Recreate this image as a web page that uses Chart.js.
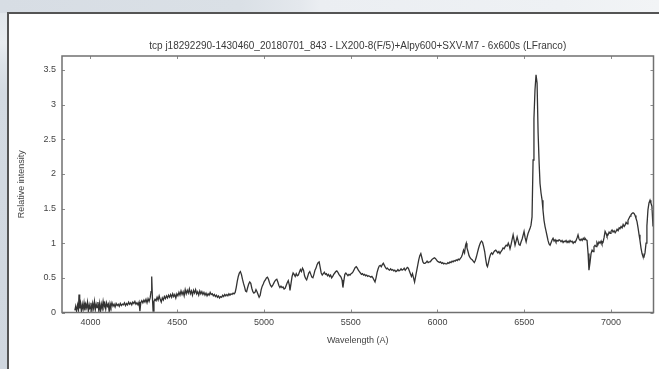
<!DOCTYPE html>
<html>
<head>
<meta charset="utf-8">
<script src="https://cdn.jsdelivr.net/npm/chart.js@4/dist/chart.umd.min.js"></script>
<style>
html, body { margin: 0; padding: 0; }
body { width: 659px; height: 369px; overflow: hidden; position: relative; background: #d5dce3; }
#topband { position: absolute; left: 0; top: 0; width: 659px; height: 13px;
  background: linear-gradient(90deg, #d7dde4 0px, #dae0e6 240px, #e4e8ed 300px, #ebeef2 320px, #eef1f4 560px, #f2f4f6 659px); }
#leftband { position: absolute; left: 0; top: 13px; width: 8px; height: 356px;
  background: linear-gradient(180deg, #e2e7ec 0px, #e8ecf0 30px, #dde3e9 50px, #d3dae2 80px, #d0d7df 356px); }
#panel { position: absolute; left: 7px; top: 12px; width: 660px; height: 370px; background: #fff;
  border-top: 2px solid #545454; border-left: 2px solid #545454; }
canvas { position: absolute; left: 0; top: 0; }
</style>
</head>
<body>
<div id="topband"></div>
<div id="leftband"></div>
<div id="panel"></div>
<canvas id="chart" width="659" height="369"></canvas>
<script>
const chartTitle = 'tcp j18292290-1430460_20180701_843 - LX200-8(F/5)+Alpy600+SXV-M7 - 6x600s (LFranco)';
const xTitle = 'Wavelength (A)';
const yTitle = 'Relative intensity';
const xTicks = [4000, 4500, 5000, 5500, 6000, 6500, 7000];
const yTicks = [0, 0.5, 1, 1.5, 2, 2.5, 3, 3.5];

// wavelength (A)
const wavelength = [
  3910, 3915, 3920, 3926, 3931, 3934, 3938, 3943, 3948, 3953, 3958, 3963, 3968, 3973, 3978, 3983, 3988, 3993, 3998, 4003,
  4008, 4013, 4018, 4023, 4028, 4033, 4038, 4043, 4048, 4053, 4058, 4063, 4068, 4073, 4078, 4083, 4088, 4093, 4098, 4103,
  4108, 4113, 4118, 4124, 4130, 4136, 4142, 4148, 4154, 4160, 4166, 4172, 4178, 4184, 4190, 4196, 4202, 4208, 4214, 4220,
  4226, 4232, 4238, 4244, 4250, 4256, 4262, 4268, 4274, 4280, 4285, 4290, 4296, 4302, 4308, 4314, 4320, 4326, 4332, 4338,
  4344, 4349, 4353, 4357, 4361, 4366, 4372, 4378, 4384, 4390, 4396, 4402, 4408, 4414, 4420, 4426, 4432, 4438, 4444, 4450,
  4456, 4462, 4468, 4474, 4480, 4486, 4492, 4498, 4504, 4510, 4516, 4522, 4528, 4534, 4540, 4546, 4552, 4558, 4564, 4570,
  4576, 4582, 4588, 4594, 4600, 4606, 4612, 4618, 4624, 4630, 4636, 4642, 4648, 4654, 4660, 4666, 4672, 4678, 4684, 4690,
  4696, 4702, 4708, 4714, 4720, 4726, 4732, 4738, 4744, 4750, 4756, 4762, 4768, 4774, 4780, 4786, 4792, 4798, 4804, 4810,
  4816, 4822, 4828, 4834, 4840, 4846, 4852, 4858, 4864, 4870, 4876, 4882, 4888, 4894, 4900, 4906, 4912, 4918, 4924, 4930,
  4936, 4942, 4948, 4954, 4960, 4966, 4972, 4978, 4984, 4990, 4996, 5002, 5008, 5014, 5020, 5026, 5032, 5038, 5044, 5050,
  5056, 5062, 5068, 5074, 5080, 5086, 5092, 5098, 5104, 5110, 5116, 5122, 5128, 5134, 5140, 5146, 5150, 5156, 5162, 5168,
  5174, 5180, 5186, 5192, 5198, 5204, 5210, 5216, 5222, 5228, 5234, 5240, 5246, 5252, 5258, 5264, 5270, 5276, 5282, 5288,
  5294, 5300, 5306, 5312, 5318, 5324, 5330, 5336, 5342, 5348, 5354, 5360, 5366, 5372, 5378, 5384, 5390, 5396, 5402, 5408,
  5414, 5420, 5426, 5432, 5438, 5444, 5450, 5455, 5460, 5466, 5472, 5478, 5484, 5490, 5496, 5502, 5508, 5514, 5520, 5526,
  5532, 5538, 5544, 5550, 5556, 5562, 5568, 5574, 5580, 5586, 5592, 5598, 5604, 5610, 5616, 5622, 5628, 5634, 5640, 5646,
  5652, 5658, 5664, 5670, 5676, 5682, 5688, 5694, 5700, 5706, 5712, 5718, 5724, 5730, 5736, 5742, 5748, 5754, 5760, 5766,
  5772, 5778, 5784, 5790, 5796, 5802, 5808, 5814, 5820, 5826, 5832, 5838, 5844, 5850, 5856, 5862, 5868, 5874, 5880, 5886,
  5892, 5898, 5904, 5910, 5916, 5922, 5928, 5934, 5940, 5946, 5952, 5958, 5964, 5970, 5976, 5982, 5988, 5994, 6000, 6006,
  6012, 6018, 6024, 6030, 6036, 6042, 6048, 6054, 6060, 6066, 6072, 6078, 6084, 6090, 6096, 6102, 6108, 6114, 6120, 6126,
  6132, 6138, 6144, 6150, 6156, 6162, 6166, 6170, 6176, 6182, 6188, 6194, 6200, 6206, 6212, 6218, 6224, 6230, 6236, 6242,
  6248, 6254, 6260, 6266, 6272, 6278, 6284, 6288, 6294, 6300, 6306, 6312, 6318, 6324, 6330, 6336, 6342, 6348, 6354, 6360,
  6366, 6372, 6378, 6384, 6390, 6396, 6402, 6408, 6414, 6418, 6424, 6430, 6436, 6442, 6447, 6453, 6459, 6465, 6470, 6476,
  6482, 6488, 6494, 6499, 6505, 6511, 6516, 6522, 6528, 6534, 6539, 6545, 6551, 6556, 6562, 6568, 6574, 6580, 6586, 6591,
  6597, 6603, 6608, 6614, 6620, 6626, 6632, 6637, 6643, 6649, 6655, 6661, 6666, 6672, 6678, 6683, 6689, 6695, 6701, 6706,
  6712, 6718, 6724, 6730, 6735, 6741, 6747, 6753, 6758, 6764, 6770, 6776, 6782, 6788, 6793, 6799, 6805, 6810, 6816, 6822,
  6828, 6834, 6840, 6845, 6850, 6856, 6862, 6868, 6873, 6879, 6885, 6891, 6897, 6902, 6908, 6914, 6919, 6925, 6931, 6937,
  6943, 6948, 6954, 6960, 6966, 6972, 6977, 6983, 6989, 6995, 7000, 7006, 7012, 7018, 7024, 7029, 7035, 7041, 7047, 7052,
  7058, 7064, 7070, 7076, 7081, 7087, 7093, 7098, 7104, 7110, 7115, 7121, 7127, 7133, 7139, 7144, 7150, 7156, 7162, 7167,
  7173, 7179, 7184, 7190, 7196, 7202, 7207, 7213, 7219, 7225, 7230, 7236, 7242
];

// relative intensity at each wavelength
const intensity = [
  0.03, 0.09, 0.02, 0.11, 0.04, 0.26, 0.06, 0.13, 0.01, 0.12, 0.05, 0.14, 0.03, 0.12, 0.07, 0.15, 0.02, 0.11, 0.05, 0.14,
  0.02, 0.13, 0.06, 0.16, 0.04, 0.12, 0.07, 0.15, 0.03, 0.13, 0.01, 0.12, 0.06, 0.16, 0.08, 0.13, 0.05, 0.14, 0.09, 0.12,
  0.01, 0.13, 0.08, 0.14, 0.09, 0.12, 0.08, 0.13, 0.10, 0.12, 0.09, 0.13, 0.10, 0.12, 0.11, 0.14, 0.10, 0.13, 0.11, 0.15,
  0.12, 0.14, 0.11, 0.15, 0.13, 0.16, 0.12, 0.14, 0.11, 0.15, 0.02, 0.14, 0.17, 0.14, 0.18, 0.15, 0.19, 0.14, 0.20, 0.16,
  0.21, 0.30, 0.52, 0.22, 0.02, 0.16, 0.19, 0.17, 0.22, 0.18, 0.24, 0.19, 0.15, 0.21, 0.18, 0.23, 0.20, 0.24, 0.21, 0.25,
  0.22, 0.26, 0.22, 0.27, 0.23, 0.26, 0.21, 0.27, 0.24, 0.29, 0.25, 0.31, 0.26, 0.30, 0.24, 0.33, 0.27, 0.32, 0.28, 0.34,
  0.27, 0.31, 0.25, 0.32, 0.28, 0.33, 0.27, 0.30, 0.25, 0.31, 0.27, 0.30, 0.26, 0.29, 0.25, 0.28, 0.24, 0.27, 0.25, 0.29,
  0.26, 0.27, 0.24, 0.26, 0.23, 0.25, 0.22, 0.24, 0.21, 0.23, 0.22, 0.25, 0.23, 0.26, 0.24, 0.26, 0.24, 0.27, 0.25, 0.27,
  0.26, 0.28, 0.27, 0.29, 0.36, 0.45, 0.52, 0.57, 0.59, 0.55, 0.48, 0.42, 0.37, 0.31, 0.30, 0.36, 0.41, 0.44, 0.42, 0.35,
  0.30, 0.28, 0.29, 0.33, 0.30, 0.26, 0.22, 0.25, 0.33, 0.38, 0.41, 0.45, 0.47, 0.50, 0.51, 0.48, 0.43, 0.39, 0.37, 0.39,
  0.42, 0.45, 0.47, 0.48, 0.44, 0.39, 0.36, 0.38, 0.36, 0.37, 0.34, 0.35, 0.39, 0.43, 0.46, 0.40, 0.32, 0.42, 0.52, 0.57,
  0.55, 0.52, 0.56, 0.53, 0.54, 0.58, 0.62, 0.59, 0.64, 0.61, 0.53, 0.49, 0.47, 0.52, 0.57, 0.59, 0.55, 0.51, 0.50, 0.55,
  0.61, 0.64, 0.69, 0.72, 0.73, 0.65, 0.57, 0.54, 0.56, 0.58, 0.55, 0.56, 0.53, 0.55, 0.52, 0.54, 0.50, 0.52, 0.55, 0.57,
  0.59, 0.60, 0.58, 0.55, 0.53, 0.51, 0.47, 0.36, 0.45, 0.55, 0.57, 0.55, 0.53, 0.55, 0.54, 0.56, 0.57, 0.59, 0.62, 0.65,
  0.66, 0.64, 0.61, 0.59, 0.57, 0.55, 0.56, 0.54, 0.55, 0.53, 0.54, 0.52, 0.53, 0.52, 0.51, 0.52, 0.50, 0.47, 0.44, 0.50,
  0.58, 0.63, 0.67, 0.68, 0.66, 0.69, 0.71, 0.68, 0.65, 0.63, 0.64, 0.62, 0.61, 0.63, 0.61, 0.62, 0.60, 0.61, 0.59, 0.60,
  0.62, 0.60, 0.61, 0.63, 0.61, 0.62, 0.64, 0.61, 0.63, 0.65, 0.64, 0.60, 0.56, 0.52, 0.56, 0.50, 0.44, 0.52, 0.60, 0.68,
  0.76, 0.82, 0.85, 0.79, 0.73, 0.71, 0.71, 0.72, 0.74, 0.72, 0.73, 0.73, 0.75, 0.77, 0.78, 0.79, 0.78, 0.76, 0.74, 0.73,
  0.72, 0.73, 0.71, 0.72, 0.70, 0.71, 0.70, 0.70, 0.72, 0.71, 0.73, 0.72, 0.74, 0.73, 0.75, 0.74, 0.76, 0.75, 0.77, 0.76,
  0.78, 0.80, 0.84, 0.90, 0.86, 0.97, 1.00, 0.93, 0.88, 0.82, 0.79, 0.77, 0.76, 0.74, 0.72, 0.75, 0.80, 0.86, 0.92, 0.97,
  1.01, 1.03, 1.01, 0.95, 0.88, 0.77, 0.68, 0.66, 0.72, 0.79, 0.84, 0.86, 0.84, 0.87, 0.89, 0.90, 0.88, 0.86, 0.88, 0.85,
  0.88, 0.90, 0.93, 0.92, 0.95, 0.97, 0.96, 1.00, 0.96, 0.92, 0.98, 1.05, 1.12, 1.04, 0.97, 1.03, 1.09, 1.03, 0.98, 0.97,
  1.02, 1.06, 1.12, 1.17, 1.08, 1.02, 1.08, 1.14, 1.18, 1.22, 1.26, 1.38, 2.20, 2.80, 3.21, 3.43, 3.31, 2.59, 2.15, 1.86,
  1.72, 1.62, 1.48, 1.33, 1.24, 1.17, 1.10, 1.04, 0.99, 0.97, 1.01, 1.05, 1.07, 1.03, 1.05, 1.02, 1.04, 1.03, 1.05, 1.04,
  1.02, 1.04, 1.01, 1.03, 1.02, 1.04, 1.01, 1.03, 1.01, 1.04, 1.02, 1.03, 1.00, 1.02, 1.01, 1.04, 1.08, 1.12, 1.06, 1.04,
  1.06, 1.04, 1.07, 1.05, 1.07, 1.05, 1.04, 0.85, 0.61, 0.72, 0.85, 0.90, 0.88, 0.95, 0.97, 0.95, 1.01, 0.98, 1.02, 1.00,
  1.03, 0.99, 1.01, 1.08, 1.17, 1.14, 1.10, 1.12, 1.16, 1.14, 1.17, 1.19, 1.16, 1.18, 1.15, 1.17, 1.20, 1.18, 1.22, 1.21,
  1.24, 1.22, 1.27, 1.24, 1.26, 1.30, 1.28, 1.33, 1.36, 1.39, 1.41, 1.43, 1.44, 1.43, 1.40, 1.36, 1.31, 1.22, 1.12, 1.04,
  0.93, 0.85, 0.81, 0.80, 0.86, 1.00, 1.25, 1.48, 1.58, 1.62, 1.58, 1.53, 1.24
];

const labelFont = { family: "'Liberation Sans', Arial, sans-serif", size: 9, weight: 'normal' };
const titleFont = { family: "'Liberation Sans', Arial, sans-serif", size: 10, weight: 'normal' };

// frame round the plot area, with short inward ticks on all four sides
const frameTicks = {
  id: 'frameTicks',
  afterDatasetsDraw(chart) {
    const { ctx, chartArea: a, scales } = chart;
    ctx.save();
    ctx.strokeStyle = '#8c8c8c';
    ctx.lineWidth = 1;
    ctx.beginPath();
    scales.x.ticks.forEach(t => {
      const px = Math.round(scales.x.getPixelForValue(t.value)) + 0.5;
      ctx.moveTo(px, a.bottom); ctx.lineTo(px, a.bottom - 3);
      ctx.moveTo(px, a.top); ctx.lineTo(px, a.top + 3);
    });
    scales.y.ticks.forEach(t => {
      const py = Math.round(scales.y.getPixelForValue(t.value)) + 0.5;
      ctx.moveTo(a.left, py); ctx.lineTo(a.left + 3, py);
      ctx.moveTo(a.right, py); ctx.lineTo(a.right - 3, py);
    });
    ctx.stroke();
    ctx.strokeStyle = '#707070';
    ctx.lineWidth = 1.5;
    ctx.strokeRect(a.left, a.top, a.right - a.left, a.bottom - a.top);
    ctx.restore();
  }
};

new Chart(document.getElementById('chart'), {
  type: 'line',
  data: {
    datasets: [{
      data: wavelength.map((w, i) => ({ x: w, y: intensity[i] })),
      borderColor: '#333333',
      borderWidth: 1.3,
      pointRadius: 0,
      tension: 0,
      fill: false
    }]
  },
  options: {
    responsive: false,
    animation: false,
    devicePixelRatio: 1,
    layout: { padding: { left: 0, right: 5.5, top: 0, bottom: 0 } },
    plugins: {
      legend: { display: false },
      tooltip: { enabled: false },
      title: {
        display: true,
        text: chartTitle,
        fullSize: false,
        color: '#3a3a3a',
        font: titleFont,
        padding: { top: 40.5, bottom: 3.5 }
      }
    },
    scales: {
      x: {
        type: 'linear',
        min: 3836,
        max: 7245,
        afterBuildTicks: s => { s.ticks = xTicks.map(v => ({ value: v })); },
        afterFit: s => { s.height = 56.5; },
        grid: { display: false, drawTicks: false },
        border: { display: false },
        ticks: { color: '#444', font: labelFont, padding: 5, maxRotation: 0, callback: v => String(v) },
        title: { display: true, text: xTitle, color: '#444', font: labelFont, padding: { top: 0, bottom: 23.5 } }
      },
      y: {
        type: 'linear',
        min: 0,
        max: 3.7,
        afterBuildTicks: s => { s.ticks = yTicks.map(v => ({ value: v })); },
        afterFit: s => { s.width = 62; },
        grid: { display: false, drawTicks: false },
        border: { display: false },
        ticks: { color: '#444', font: labelFont, padding: 6, callback: v => String(v) },
        title: { display: true, text: yTitle, color: '#444', font: labelFont, padding: { top: 16, bottom: 0 } }
      }
    }
  },
  plugins: [frameTicks]
});
</script>
</body>
</html>
